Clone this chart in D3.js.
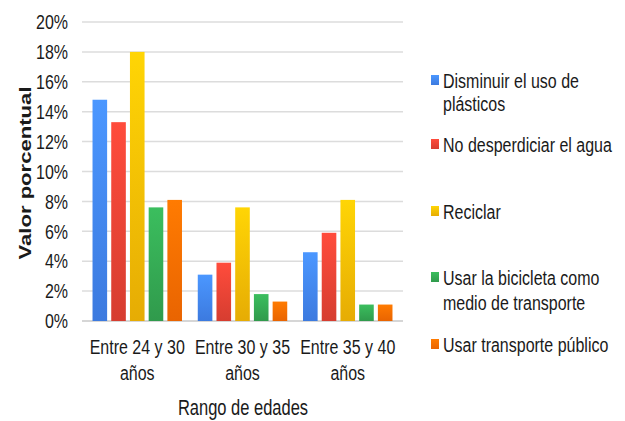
<!DOCTYPE html>
<html><head><meta charset="utf-8">
<script src="https://cdn.jsdelivr.net/npm/d3@7"></script>
<style>body{margin:0;background:#fff}svg{display:block}text{font-family:"Liberation Sans",Arial,sans-serif;fill:#1a1a1a}</style>
</head><body><svg id="c" width="625" height="421"></svg>
<script>
const categories = [["Entre 24 y 30","años"],["Entre 30 y 35","años"],["Entre 35 y 40","años"]];
const seriesNames = [["Disminuir el uso de","plásticos"],["No desperdiciar el agua"],["Reciclar"],["Usar la bicicleta como","medio de transporte"],["Usar transporte público"]];
const seriesColors = ["#4285F4","#EA4335","#FBBC04","#34A853","#FF6D01"];
const disminuir = [14.8, 3.1, 4.6];
const noDesperdiciar = [13.3, 3.9, 5.9];
const reciclar = [18.0, 7.6, 8.1];
const bicicleta = [7.6, 1.8, 1.1];
const transporte = [8.1, 1.3, 1.1];
const yTicks = [0,2,4,6,8,10,12,14,16,18,20];
const series = [disminuir, noDesperdiciar, reciclar, bicicleta, transporte];

const svg = d3.select("#c");
const SY = 1.3;
const m = {left:82, right:403, top:22, bottom:321};
const x0 = d3.scaleBand().domain(d3.range(categories.length)).range([m.left, m.right]).paddingInner(0.15).paddingOuter(0.1);
const x1 = d3.scaleBand().domain(d3.range(series.length)).range([0, x0.bandwidth()]).paddingInner(0.22);
const y = d3.scaleLinear().domain([0,20]).range([m.bottom, m.top]);

function txt(g, s, x, yy, opts={}) {
  return g.append("text").attr("transform", `translate(${x},${yy}) scale(1,${SY})`)
    .attr("text-anchor", opts.anchor||"start").attr("dominant-baseline","central")
    .attr("font-size", opts.size||16).attr("font-weight", opts.weight||"normal").text(s);
}

const defs = svg.append("defs");
seriesColors.forEach((c,i)=>{
  const gr = defs.append("linearGradient").attr("id","g"+i).attr("x1",0).attr("y1",0).attr("x2",0).attr("y2",1);
  gr.append("stop").attr("offset","0%").attr("stop-color", d3.color(c).brighter(0.35));
  gr.append("stop").attr("offset","100%").attr("stop-color", d3.color(c).darker(0.25));
});

// grid
const grid = svg.append("g");
yTicks.forEach(t=>{
  grid.append("line").attr("x1",m.left).attr("x2",m.right).attr("y1",y(t)).attr("y2",y(t))
    .attr("stroke", t===0 ? "#c8c8c8" : "#dcdcdc").attr("stroke-width",1.5);
  txt(svg, t+"%", 68, y(t), {anchor:"end"});
});

// bars
const bars = svg.append("g");
categories.forEach((c,ci)=>{
  series.forEach((s,si)=>{
    bars.append("rect").attr("x", x0(ci)+x1(si)).attr("width", x1.bandwidth())
      .attr("y", y(s[ci])).attr("height", y(0)-y(s[ci])).attr("fill", `url(#g${si})`);
  });
  const cx = x0(ci)+x0.bandwidth()/2;
  txt(svg, c[0], cx, 347, {anchor:"middle"});
  txt(svg, c[1], cx, 373, {anchor:"middle"});
});

// axis titles
txt(svg, "Rango de edades", 243, 408, {anchor:"middle", size:16.5});
svg.append("text").attr("transform", `translate(25,173) rotate(-90) scale(${SY},1)`)
  .attr("text-anchor","middle").attr("dominant-baseline","central")
  .attr("font-size",17).attr("font-weight","bold").text("Valor porcentual");

// legend
const legY = [[81,104],[145],[212],[278,303],[345]];
seriesNames.forEach((n,i)=>{
  svg.append("rect").attr("x",431).attr("y",legY[i][0]-6).attr("width",8).attr("height",10).attr("fill",`url(#g${i})`);
  n.forEach((line,li)=> txt(svg, line, 443, legY[i][li]));
});
</script></body></html>
